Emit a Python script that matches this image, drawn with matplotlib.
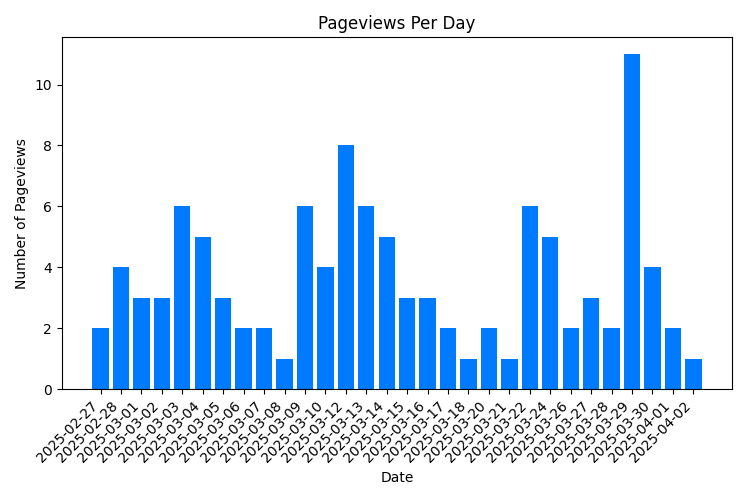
import matplotlib
matplotlib.use("Agg")
import matplotlib.pyplot as plt

dates = ["2025-02-27", "2025-02-28", "2025-03-01", "2025-03-02", "2025-03-03",
         "2025-03-04", "2025-03-05", "2025-03-06", "2025-03-07", "2025-03-08",
         "2025-03-09", "2025-03-10", "2025-03-12", "2025-03-13", "2025-03-14",
         "2025-03-15", "2025-03-16", "2025-03-17", "2025-03-18", "2025-03-20",
         "2025-03-21", "2025-03-22", "2025-03-24", "2025-03-26", "2025-03-27",
         "2025-03-28", "2025-03-29", "2025-03-30", "2025-04-01", "2025-04-02"]
pageviews = [2, 4, 3, 3, 6, 5, 3, 2, 2, 1, 6, 4, 8, 6, 5,
             3, 3, 2, 1, 2, 1, 6, 5, 2, 3, 2, 11, 4, 2, 1]

fig, ax = plt.subplots(figsize=(7.5, 5), dpi=100)
ax.bar(dates, pageviews, color="#007bff")
ax.set_title("Pageviews Per Day")
ax.set_xlabel("Date")
ax.set_ylabel("Number of Pageviews")
plt.xticks(rotation=45, ha="right")
plt.tight_layout()
plt.subplots_adjust(right=0.976)
plt.savefig("out.png")
